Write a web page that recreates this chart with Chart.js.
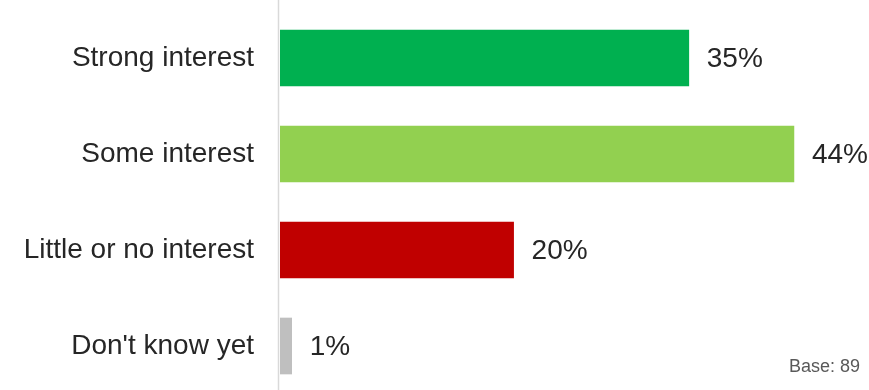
<!DOCTYPE html>
<html><head><meta charset="utf-8">
<script src="https://cdn.jsdelivr.net/npm/chart.js@4"></script>
<style>html,body{margin:0;padding:0;background:#fff;overflow:hidden}canvas{display:block}</style>
</head><body><canvas id="c" width="869" height="394" style="width:869px;height:394px"></canvas>
<script>
const categories = ["Strong interest", "Some interest", "Little or no interest", "Don't know yet"];
const values = [35, 44, 20, 1];
const valueLabels = ["35%", "44%", "20%", "1%"];
const barColors = ["#00B050", "#92D050", "#C00000", "#BFBFBF"];
const baseNote = "Base: 89";

const FONT = "'Liberation Sans', Arial, sans-serif";

const extras = {
  id: 'extras',
  afterDatasetsDraw(chart) {
    const ctx = chart.ctx;
    const meta = chart.getDatasetMeta(0);
    ctx.save();
    ctx.fillStyle = '#262626';
    ctx.font = "28px " + FONT;
    ctx.textBaseline = 'middle';
    ctx.textAlign = 'left';
    meta.data.forEach((bar, i) => {
      ctx.fillText(valueLabels[i], bar.x + 18, bar.y + 1);
    });
    ctx.font = "18px " + FONT;
    ctx.fillStyle = '#595959';
    ctx.textAlign = 'left';
    ctx.textBaseline = 'alphabetic';
    ctx.fillText(baseNote, 789, 372);
    ctx.restore();
  },
  beforeDatasetsDraw(chart) {
    const ctx = chart.ctx;
    const x = chart.scales.x.getPixelForValue(0) - 1.5;
    ctx.save();
    ctx.strokeStyle = '#D9D9D9';
    ctx.lineWidth = 1.5;
    ctx.beginPath();
    ctx.moveTo(x, 0);
    ctx.lineTo(x, 390);
    ctx.stroke();
    ctx.restore();
  }
};

new Chart(document.getElementById('c'), {
  type: 'bar',
  data: {
    labels: categories,
    datasets: [{ data: values, backgroundColor: barColors, borderWidth: 0, barThickness: 56 }]
  },
  options: {
    indexAxis: 'y',
    responsive: false,
    animation: false,
    layout: { padding: { top: 10, right: 5, bottom: 0, left: 0 } },
    plugins: { legend: { display: false }, tooltip: { enabled: false } },
    scales: {
      x: { display: false, min: 0, max: 50 },
      y: {
        afterFit(scale) { scale.width = 280; scale.paddingTop = 0; scale.paddingBottom = 0; },
        grid: { display: false, drawTicks: false },
        border: { display: false },
        ticks: { color: '#262626', font: { family: FONT, size: 28 }, padding: 26 }
      }
    }
  },
  plugins: [extras]
});
</script></body></html>
